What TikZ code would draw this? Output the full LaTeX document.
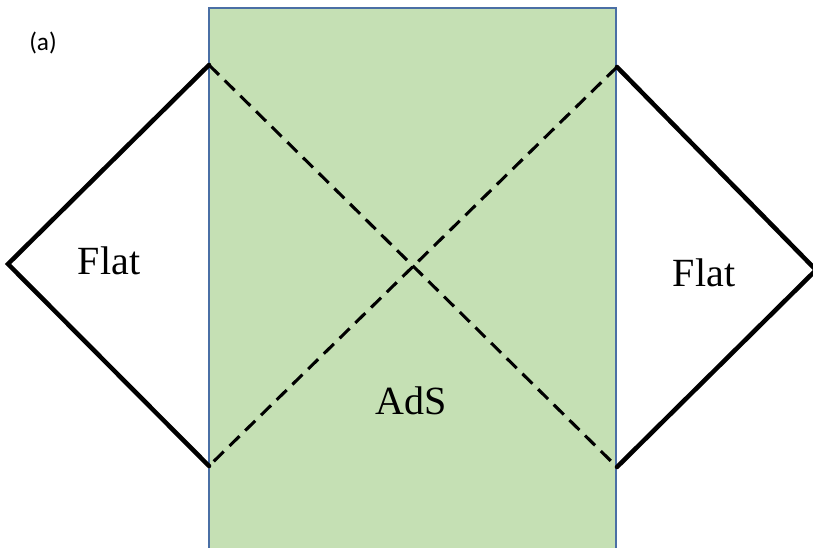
\documentclass[tikz,border=0pt]{standalone}
\usepackage{fontspec}
\setmainfont{Liberation Serif}
\newfontfamily\labelfont{Carlito}
\definecolor{adsgreen}{HTML}{C5E0B4}
\definecolor{adsedge}{HTML}{4A6FA5}
\begin{document}
\begin{tikzpicture}[x=0.75pt,y=-0.75pt,
  solidline/.style={line width=3.4pt,line join=miter,line cap=round},
  dashline/.style={line width=2.3pt,dash pattern=on 10.5pt off 6pt},
  txt/.style={font=\fontsize{30}{32}\selectfont,inner sep=0pt}]
\useasboundingbox (0,0) rectangle (813,548);
\clip (0,0) rectangle (813,548);
\fill[white] (0,0) rectangle (813,548);
\filldraw[fill=adsgreen,draw=adsedge,line width=0.9pt] (209,8) rectangle (616,560);
\coordinate (LT) at (209,65);
\coordinate (LL) at (8,264);
\coordinate (LB) at (209,466);
\coordinate (RT) at (617,67);
\coordinate (RR) at (816,270);
\coordinate (RB) at (617,467);
\draw[solidline] (LT) -- (LL) -- (LB);
\draw[solidline] (RT) -- (RR) -- (RB);
\draw[dashline] (LT) -- (RB);
\draw[dashline] (RT) -- (LB);
\node[txt] (flatL) at (109,261) {Flat};
\node[txt] (flatR) at (704,273) {Flat};
\node[txt] (ads) at (411,401) {AdS};
\node[font=\labelfont\fontsize{19}{21}\selectfont,inner sep=0pt] (lab) at (43,43) {(a)};
\end{tikzpicture}
\end{document}
